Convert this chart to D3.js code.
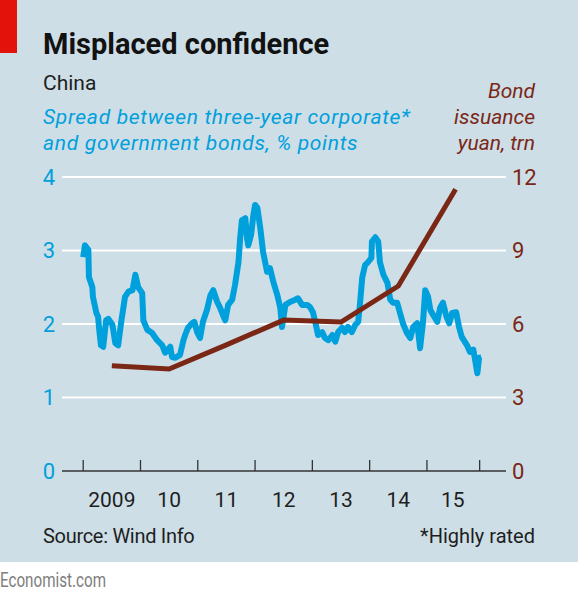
<!DOCTYPE html>
<html><head><meta charset="utf-8">
<script src="https://cdn.jsdelivr.net/npm/d3@7"></script>
<style>
html,body{margin:0;padding:0;background:#fff;}
svg text{font-family:Roboto,"Open Sans",sans-serif;}
</style></head>
<body>
<svg id="c" width="580" height="598"></svg>
<script>
// Spread (left axis, % points) — decimal year
const spreadYears = [2009.0,2009.03,2009.09,2009.10,2009.16,2009.17,2009.23,2009.26,2009.28,2009.31,2009.35,2009.40,2009.44,2009.51,2009.56,2009.61,2009.66,2009.73,2009.79,2009.86,2009.91,2009.96,2010.03,2010.05,2010.12,2010.20,2010.29,2010.38,2010.43,2010.52,2010.55,2010.61,2010.69,2010.75,2010.78,2010.83,2010.90,2010.94,2010.99,2011.04,2011.09,2011.16,2011.22,2011.27,2011.34,2011.39,2011.44,2011.48,2011.53,2011.60,2011.65,2011.71,2011.74,2011.77,2011.83,2011.86,2011.88,2011.93,2011.97,2012.00,2012.04,2012.09,2012.14,2012.21,2012.26,2012.32,2012.39,2012.44,2012.47,2012.53,2012.61,2012.70,2012.75,2012.82,2012.91,2012.96,2013.01,2013.05,2013.10,2013.17,2013.22,2013.28,2013.35,2013.40,2013.45,2013.52,2013.57,2013.62,2013.69,2013.75,2013.80,2013.83,2013.87,2013.92,2013.97,2014.03,2014.04,2014.10,2014.15,2014.18,2014.24,2014.31,2014.36,2014.41,2014.48,2014.53,2014.58,2014.65,2014.71,2014.76,2014.83,2014.88,2014.93,2014.97,2015.02,2015.06,2015.11,2015.18,2015.23,2015.28,2015.34,2015.39,2015.44,2015.51,2015.56,2015.61,2015.70,2015.75,2015.81,2015.88,2015.91,2015.95];
const spreadValues = [2.91,3.07,3.01,2.64,2.50,2.37,2.15,2.10,1.92,1.71,1.69,2.05,2.07,1.99,1.74,1.71,2.01,2.37,2.44,2.46,2.67,2.50,2.42,2.05,1.92,1.88,1.78,1.71,1.61,1.69,1.55,1.54,1.58,1.78,1.85,1.95,2.01,2.03,1.89,1.81,2.03,2.19,2.39,2.46,2.30,2.22,2.12,2.05,2.26,2.33,2.53,2.84,3.17,3.41,3.44,3.17,3.07,3.21,3.48,3.62,3.58,3.31,2.98,2.71,2.76,2.57,2.39,2.22,1.96,2.26,2.30,2.33,2.35,2.26,2.26,2.23,2.16,2.03,1.85,1.89,1.81,1.78,1.85,1.76,1.89,1.95,1.89,1.96,1.89,1.99,2.03,2.26,2.63,2.80,2.84,2.90,3.12,3.18,3.12,2.84,2.67,2.56,2.33,2.29,2.29,2.15,2.01,1.88,1.81,1.96,2.01,1.67,2.01,2.46,2.37,2.19,2.12,2.03,2.22,2.29,2.10,2.01,2.15,2.16,1.96,1.82,1.71,1.62,1.65,1.33,1.54,1.55];
// Bond issuance (right axis, yuan trn) — annual
const bondYears = [2009.5,2010.5,2011.5,2012.5,2013.5,2014.5,2015.5];
const bondValues = [4.3,4.16,5.15,6.16,6.08,7.55,11.5];
// Axes
const leftTicks = [0,1,2,3,4];
const rightTicks = [0,3,6,9,12];
const yearTicks = [2009,2010,2011,2012,2013,2014,2015,2015.92];
const yearLabelPos = [2009.5,2010.5,2011.5,2012.5,2013.5,2014.5,2015.45];
const yearLabels = ["2009","10","11","12","13","14","15"];

const BG="#cedee7", BLUE="#00a0dc", BROWN="#7a2716", INK="#1e1e1e";
const svg=d3.select("#c");
svg.append("rect").attr("x",0).attr("y",0).attr("width",578).attr("height",562).attr("fill",BG);
svg.append("rect").attr("x",0).attr("y",0).attr("width",17).attr("height",53).attr("fill","#e3120b");

const x=d3.scaleLinear().domain([2008.63,2016.38]).range([62,506]);
const yL=d3.scaleLinear().domain([0,4]).range([471,177]);
const yR=d3.scaleLinear().domain([0,12]).range([471,177]);

// gridlines
svg.append("g").selectAll("line").data(leftTicks.filter(d=>d>0)).join("line")
  .attr("x1",62).attr("x2",506).attr("y1",d=>yL(d)).attr("y2",d=>yL(d))
  .attr("stroke","#fff").attr("stroke-width",2);
// left labels
svg.append("g").selectAll("text").data(leftTicks).join("text")
  .attr("x",55).attr("y",d=>yL(d)).attr("dy","0.36em").attr("text-anchor","end")
  .attr("fill",BLUE).attr("font-size",22).text(d=>d);
svg.append("g").selectAll("text").data(rightTicks).join("text")
  .attr("x",512).attr("y",d=>yR(d)).attr("dy","0.36em").attr("text-anchor","start")
  .attr("fill",BROWN).attr("font-size",22).text(d=>d);
// baseline + ticks
svg.append("line").attr("x1",62).attr("x2",506).attr("y1",471).attr("y2",471).attr("stroke","#333").attr("stroke-width",1.6);
svg.append("g").selectAll("line").data(yearTicks).join("line")
  .attr("x1",d=>x(d)).attr("x2",d=>x(d)).attr("y1",471).attr("y2",460)
  .attr("stroke","#333").attr("stroke-width",1.3);
svg.append("g").selectAll("text").data(yearLabels).join("text")
  .attr("x",(d,i)=>x(yearLabelPos[i])).attr("y",507).attr("text-anchor","middle")
  .attr("fill",INK).attr("font-size",21).text(d=>d);

// lines
const spread=spreadYears.map((t,i)=>[t,spreadValues[i]]);
const bond=bondYears.map((t,i)=>[t,bondValues[i]]);
svg.append("path").datum(spread).attr("fill","none").attr("stroke",BLUE).attr("stroke-width",6)
  .attr("stroke-linejoin","round").attr("d",d3.line().x(d=>x(d[0])).y(d=>yL(d[1])));
svg.append("path").datum(bond).attr("fill","none").attr("stroke",BROWN).attr("stroke-width",5)
  .attr("stroke-linejoin","miter").attr("d",d3.line().x(d=>x(d[0])).y(d=>yR(d[1])));

// texts
svg.append("text").attr("x",43).attr("y",54).attr("font-size",29).attr("font-weight","bold").attr("fill","#121212").text("Misplaced confidence");
svg.append("text").attr("x",43).attr("y",90).attr("font-size",21).attr("fill",INK).text("China");
svg.append("text").attr("x",43).attr("y",124).attr("font-size",21).attr("letter-spacing",0.7).attr("font-style","italic").attr("fill",BLUE).text("Spread between three-year corporate*");
svg.append("text").attr("x",43).attr("y",150).attr("font-size",21).attr("letter-spacing",0.7).attr("font-style","italic").attr("fill",BLUE).text("and government bonds, % points");
["Bond","issuance","yuan, trn"].forEach((s,i)=>{
  svg.append("text").attr("x",535).attr("y",98+i*26).attr("text-anchor","end").attr("font-size",21)
    .attr("font-style","italic").attr("fill",BROWN).text(s);
});
svg.append("text").attr("x",43).attr("y",543).attr("font-size",20).attr("letter-spacing",-0.3).attr("fill",INK).text("Source: Wind Info");
svg.append("text").attr("x",535).attr("y",543).attr("text-anchor","end").attr("font-size",20).attr("fill",INK).text("*Highly rated");
svg.append("text").attr("x",0).attr("y",587).attr("font-size",20).attr("textLength",106).attr("lengthAdjust","spacingAndGlyphs").attr("fill","#7d7d7d").text("Economist.com");
</script>
</body></html>
